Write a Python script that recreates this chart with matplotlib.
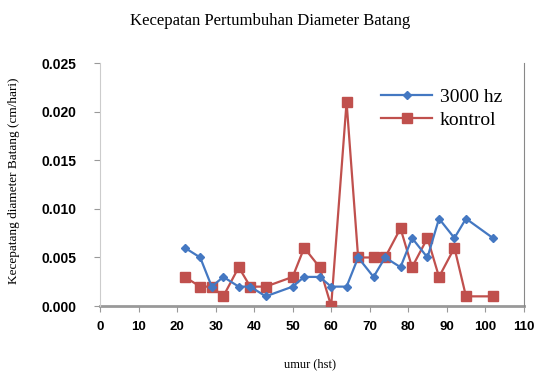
import numpy as np
import matplotlib.pyplot as plt

# umur (hst)
umur = [22, 26, 29, 32, 36, 39, 43, 50, 53, 57, 60, 64, 67, 71, 74, 78, 81, 85, 88, 92, 95, 102]
hz3000 = [0.006, 0.005, 0.002, 0.003, 0.002, 0.002, 0.001, 0.002, 0.003, 0.003, 0.002,
          0.002, 0.005, 0.003, 0.005, 0.004, 0.007, 0.005, 0.009, 0.007, 0.009, 0.007]
kontrol = [0.003, 0.002, 0.002, 0.001, 0.004, 0.002, 0.002, 0.003, 0.006, 0.004, 0.000,
           0.021, 0.005, 0.005, 0.005, 0.008, 0.004, 0.007, 0.003, 0.006, 0.001, 0.001]

xticks = list(range(0, 111, 10))
yticks = [0.000, 0.005, 0.010, 0.015, 0.020, 0.025]

serif = "Liberation Serif"
sans = "Liberation Sans"

fig = plt.figure(figsize=(5.35, 3.76), dpi=100)
ax = fig.add_axes([0.187, 0.186, 0.792, 0.646])

ax.plot(umur, kontrol, color="#c0504d", marker="s", markersize=6.5, linewidth=1.6, label="kontrol", zorder=3)
ax.plot(umur, hz3000, color="#4478c2", marker="D", markersize=4, linewidth=1.6, label="3000 hz", zorder=4)

ax.set_xlim(0, 110)
ax.set_ylim(0, 0.025)
ax.set_xticks(xticks)
ax.set_yticks(yticks)
ax.set_xticklabels([str(v) for v in xticks], fontfamily=sans, fontweight="bold", fontsize=9.5)
ax.set_yticklabels(["%.3f" % v for v in yticks], fontfamily=sans, fontweight="bold", fontsize=10)
ax.tick_params(axis="both", direction="out", length=4, color="#999999", width=0.8)
ax.tick_params(axis="x", pad=7)
ax.tick_params(axis="y", pad=13)

ax.spines["top"].set_visible(False)
ax.spines["left"].set_color("#cccccc")
ax.spines["right"].set_color("#888888")
ax.spines["bottom"].set_color("#999999")
ax.spines["bottom"].set_linewidth(2)
ax.spines["bottom"].set_zorder(2)

handles, labels = ax.get_legend_handles_labels()
ax.legend(handles[::-1], labels[::-1], loc="upper right", frameon=False,
          prop={"family": serif, "size": 14}, bbox_to_anchor=(0.99, 0.97),
          handlelength=2.6, labelspacing=0.3, handletextpad=0.4)

fig.text(0.505, 0.945, "Kecepatan Pertumbuhan Diameter Batang", ha="center", va="center",
         fontfamily=serif, fontsize=12)
fig.text(0.026, 0.52, "Kecepatang diameter Batang (cm/hari)", ha="center", va="center",
         rotation=90, fontfamily=serif, fontsize=9.5)
fig.text(0.58, 0.03, "umur (hst)", ha="center", va="center", fontfamily=serif, fontsize=9)

fig.savefig("out.png", dpi=100)
